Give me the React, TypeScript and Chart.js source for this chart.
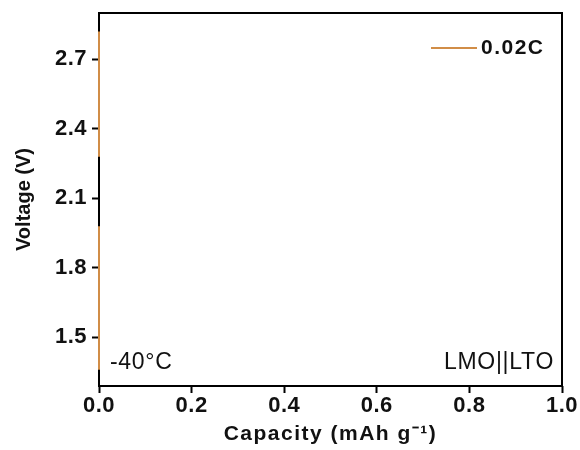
import React, { useEffect, useRef } from 'react';
import { Chart, registerables } from 'chart.js';

Chart.register(...registerables);

// ---- data ----
const capacity = [0, 0, 0, 0, 0];
const voltage: (number | null)[] = [2.82, 2.28, null, 1.98, 1.36];
const seriesLabel = '0.02C';
const seriesColor = '#D18D47';
const xTicks = [0, 0.2, 0.4, 0.6, 0.8, 1.0];
const yTicks = [1.5, 1.8, 2.1, 2.4, 2.7];
const xRange = [0, 1.0];
const yRange = [1.29, 2.9];
const xTitle = 'Capacity (mAh g\u207B\u00B9)';
const yTitle = 'Voltage (V)';
const tempNote = '-40\u00B0C';
const cellNote = 'LMO||LTO';

const FONT = "'Liberation Sans', Arial, Helvetica, sans-serif";
const INK = '#111111';

const spacingPlugin = {
  id: 'spacing',
  beforeDraw(chart: any) {
    const cfg: Record<string, Record<string, number>> = {
      x: { drawLabels: 0.5, drawTitle: 1.5 },
      y: { drawLabels: 0.5, drawTitle: 0 },
    };
    for (const id of Object.keys(cfg)) {
      const s: any = chart.scales[id];
      if (!s || s.__spaced) continue;
      s.__spaced = true;
      for (const m of Object.keys(cfg[id])) {
        const orig = s[m].bind(s);
        const sp = cfg[id][m];
        s[m] = (...args: any[]) => {
          const ctx = chart.ctx;
          ctx.save();
          ctx.letterSpacing = sp + 'px';
          orig(...args);
          ctx.restore();
        };
      }
    }
  },
};

const framePlugin = {
  id: 'frame',
  beforeDatasetsDraw(chart: any) {
    const { ctx, chartArea: a } = chart;
    ctx.save();
    ctx.strokeStyle = '#000';
    ctx.lineWidth = 2;
    ctx.strokeRect(a.left, a.top, a.right - a.left, a.bottom - a.top);
    ctx.restore();
  },
};

const notesPlugin = {
  id: 'notes',
  afterDraw(chart: any) {
    const { ctx, chartArea: a } = chart;
    ctx.save();
    ctx.fillStyle = INK;
    ctx.textBaseline = 'middle';
    ctx.letterSpacing = '0.7px';
    ctx.font = `23px ${FONT}`;
    ctx.textAlign = 'left';
    ctx.fillText(tempNote, a.left + 11, a.bottom - 23);
    ctx.textAlign = 'right';
    ctx.fillText(cellNote, a.right - 8, a.bottom - 23);

    // legend
    const ds = chart.data.datasets[0];
    const ly = a.top + 35;
    ctx.strokeStyle = ds.borderColor;
    ctx.lineWidth = 2;
    ctx.beginPath();
    ctx.moveTo(a.right - 131, ly);
    ctx.lineTo(a.right - 85, ly);
    ctx.stroke();
    ctx.letterSpacing = '1.5px';
    ctx.font = `bold 21px ${FONT}`;
    ctx.textAlign = 'left';
    ctx.fillText(ds.label, a.right - 81, ly);
    ctx.restore();
  },
};

export default function App() {
  const ref = useRef<HTMLCanvasElement>(null);

  useEffect(() => {
    const chart = new Chart(ref.current as HTMLCanvasElement, {
      type: 'line',
      data: {
        datasets: [
          {
            label: seriesLabel,
            data: capacity.map((x, i) => ({ x, y: voltage[i] })) as any,
            borderColor: seriesColor,
            backgroundColor: seriesColor,
            borderWidth: 2,
            pointRadius: 0,
            spanGaps: false,
            clip: false as any,
          },
        ],
      },
      options: {
        animation: false,
        responsive: false,
        layout: { padding: { top: 13, right: 18, bottom: 0, left: 0 } },
        plugins: { legend: { display: false }, tooltip: { enabled: false } },
        scales: {
          x: {
            type: 'linear',
            min: xRange[0],
            max: xRange[1],
            afterBuildTicks: (s: any) => {
              s.ticks = xTicks.map((v) => ({ value: v }));
            },
            afterFit: (s: any) => {
              s.height = 64;
            },
            ticks: {
              callback: (v: any) => Number(v).toFixed(1),
              font: { family: FONT, size: 22, weight: 'bold' },
              color: INK,
              padding: 0,
              maxRotation: 0,
              autoSkip: false,
            },
            grid: {
              display: true,
              drawOnChartArea: false,
              drawTicks: true,
              tickLength: 7,
              tickWidth: 2,
              tickColor: '#000',
            },
            border: { display: false },
            title: {
              display: true,
              text: xTitle,
              color: INK,
              font: { family: FONT, size: 21, weight: 'bold' },
              padding: { top: 0, bottom: 3 },
            },
          },
          y: {
            type: 'linear',
            min: yRange[0],
            max: yRange[1],
            afterBuildTicks: (s: any) => {
              s.ticks = yTicks.map((v) => ({ value: v }));
            },
            afterFit: (s: any) => {
              s.width = 99;
              s.paddingTop = 0;
              s.paddingBottom = 0;
            },
            ticks: {
              callback: (v: any) => Number(v).toFixed(1),
              font: { family: FONT, size: 22, weight: 'bold' },
              color: INK,
              padding: 5,
              autoSkip: false,
            },
            grid: {
              display: true,
              drawOnChartArea: false,
              drawTicks: true,
              tickLength: 7,
              tickWidth: 2,
              tickColor: '#000',
            },
            border: { display: false },
            title: {
              display: true,
              text: yTitle,
              color: INK,
              font: { family: FONT, size: 20, weight: 'bold' },
              padding: { top: 12, bottom: 0 },
            },
          },
        },
      },
      plugins: [spacingPlugin, framePlugin, notesPlugin],
    });
    return () => chart.destroy();
  }, []);

  return (
    <div style={{ position: 'absolute', left: 0, top: 0, width: 580, height: 450, background: '#fff' }}>
      <canvas ref={ref} width={580} height={450} style={{ display: 'block', width: 580, height: 450 }} />
    </div>
  );
}
